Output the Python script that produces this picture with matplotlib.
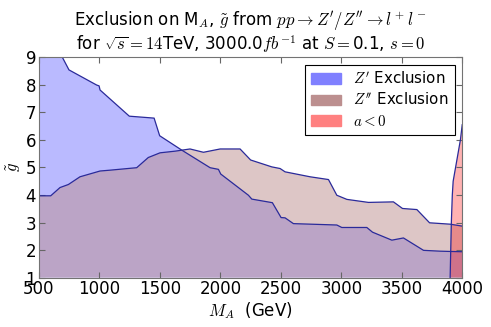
import matplotlib
matplotlib.use("Agg")
import matplotlib.pyplot as plt
from matplotlib.patches import Patch

plt.rcParams['mathtext.fontset'] = 'cm'
plt.rcParams['font.family'] = 'DejaVu Sans'

# Z' exclusion boundary
mz_p = [500, 693, 748, 977, 997, 1005, 1247, 1452, 1498, 1680, 1915, 1984, 2003,
        2232, 2260, 2430, 2502, 2535, 2604, 2963, 3004, 3211, 3258, 3418, 3514,
        3680, 3818, 3900, 4000]
g_p = [9.0, 9.0, 8.54, 7.99, 7.96, 7.81, 6.86, 6.79, 6.15, 5.63, 4.99, 4.93, 4.76,
       3.99, 3.85, 3.72, 3.18, 3.17, 2.96, 2.91, 2.82, 2.82, 2.65, 2.36, 2.44,
       1.99, 1.96, 1.95, 1.94]

# Z'' exclusion boundary
mz_pp = [500, 597, 674, 743, 839, 1005, 1087, 1308, 1404, 1501, 1625, 1749, 1860,
         1998, 2163, 2250, 2425, 2494, 2535, 2742, 2894, 2963, 3046, 3225, 3431,
         3506, 3625, 3730, 3900, 4000]
g_pp = [3.97, 3.97, 4.27, 4.38, 4.66, 4.87, 4.9, 4.99, 5.36, 5.53, 5.59, 5.67, 5.55,
        5.67, 5.67, 5.27, 5.02, 4.96, 4.84, 4.66, 4.56, 3.99, 3.84, 3.73, 3.75,
        3.51, 3.47, 2.99, 2.94, 2.87]

# a < 0 boundary
g_neg = [1, 2, 3, 4, 4.5, 5, 5.5, 6, 6.55]
mz_neg = [3900, 3905, 3910, 3918, 3925, 3945, 3965, 3985, 4000]

edge = '#2a2a9a'
fs = 12

fig = plt.figure(figsize=(4.91, 3.27), dpi=100)
ax = fig.add_axes([0.0794, 0.151, 0.862, 0.674])

ax.fill_between(mz_p, 1, g_p, facecolor='blue', alpha=0.27, lw=0)
ax.plot(mz_p, g_p, color=edge, lw=0.9)
ax.fill_between(mz_pp, 1, g_pp, facecolor='rosybrown', alpha=0.5, lw=0)
ax.plot(mz_pp, g_pp, color=edge, lw=0.9)
ax.fill_betweenx(g_neg, mz_neg, 4000, facecolor='red', alpha=0.3, lw=0)
ax.plot(mz_neg, g_neg, color=edge, lw=0.9)

ax.set_xlim(500, 4000)
ax.set_ylim(1, 9)
ax.set_xticks(range(500, 4001, 500))
ax.set_yticks(range(1, 10))
ax.tick_params(direction='in', top=True, right=True, labelsize=fs, length=4,
               color='0.4', pad=2)
for s in ax.spines.values():
    s.set_color('0.45')

ax.set_xlabel(r'$M_A$  (GeV)', fontsize=fs, labelpad=1)
ax.set_ylabel(r'$\tilde{g}$', fontsize=fs, labelpad=2)
ax.set_title("Exclusion on M$_A$, $\\tilde{g}$ from $pp\\rightarrow Z'/Z''\\rightarrow l^+l^-$\n"
             "for $\\sqrt{s}=14$TeV, 3000.0$fb^{-1}$ at $S=$0.1, $s=0$",
             fontsize=fs, pad=5, linespacing=1.05)

handles = [Patch(facecolor='#8080ff', edgecolor='#8080ff'),
           Patch(facecolor='#bc8f8f', edgecolor='#bc8f8f'),
           Patch(facecolor='#ff8080', edgecolor='#ff8080')]
labels = [r"$Z'$ Exclusion", r"$Z''$ Exclusion", r"$a<0$"]
leg = ax.legend(handles, labels, loc='upper right', fontsize=10.8, fancybox=False,
                framealpha=1, borderaxespad=0.5, handlelength=2.0, handleheight=0.7,
                handletextpad=0.8, labelspacing=0.36, borderpad=0.4)
leg.get_frame().set_edgecolor('black')
leg.get_frame().set_linewidth(0.8)

fig.savefig('out.png', dpi=100)
